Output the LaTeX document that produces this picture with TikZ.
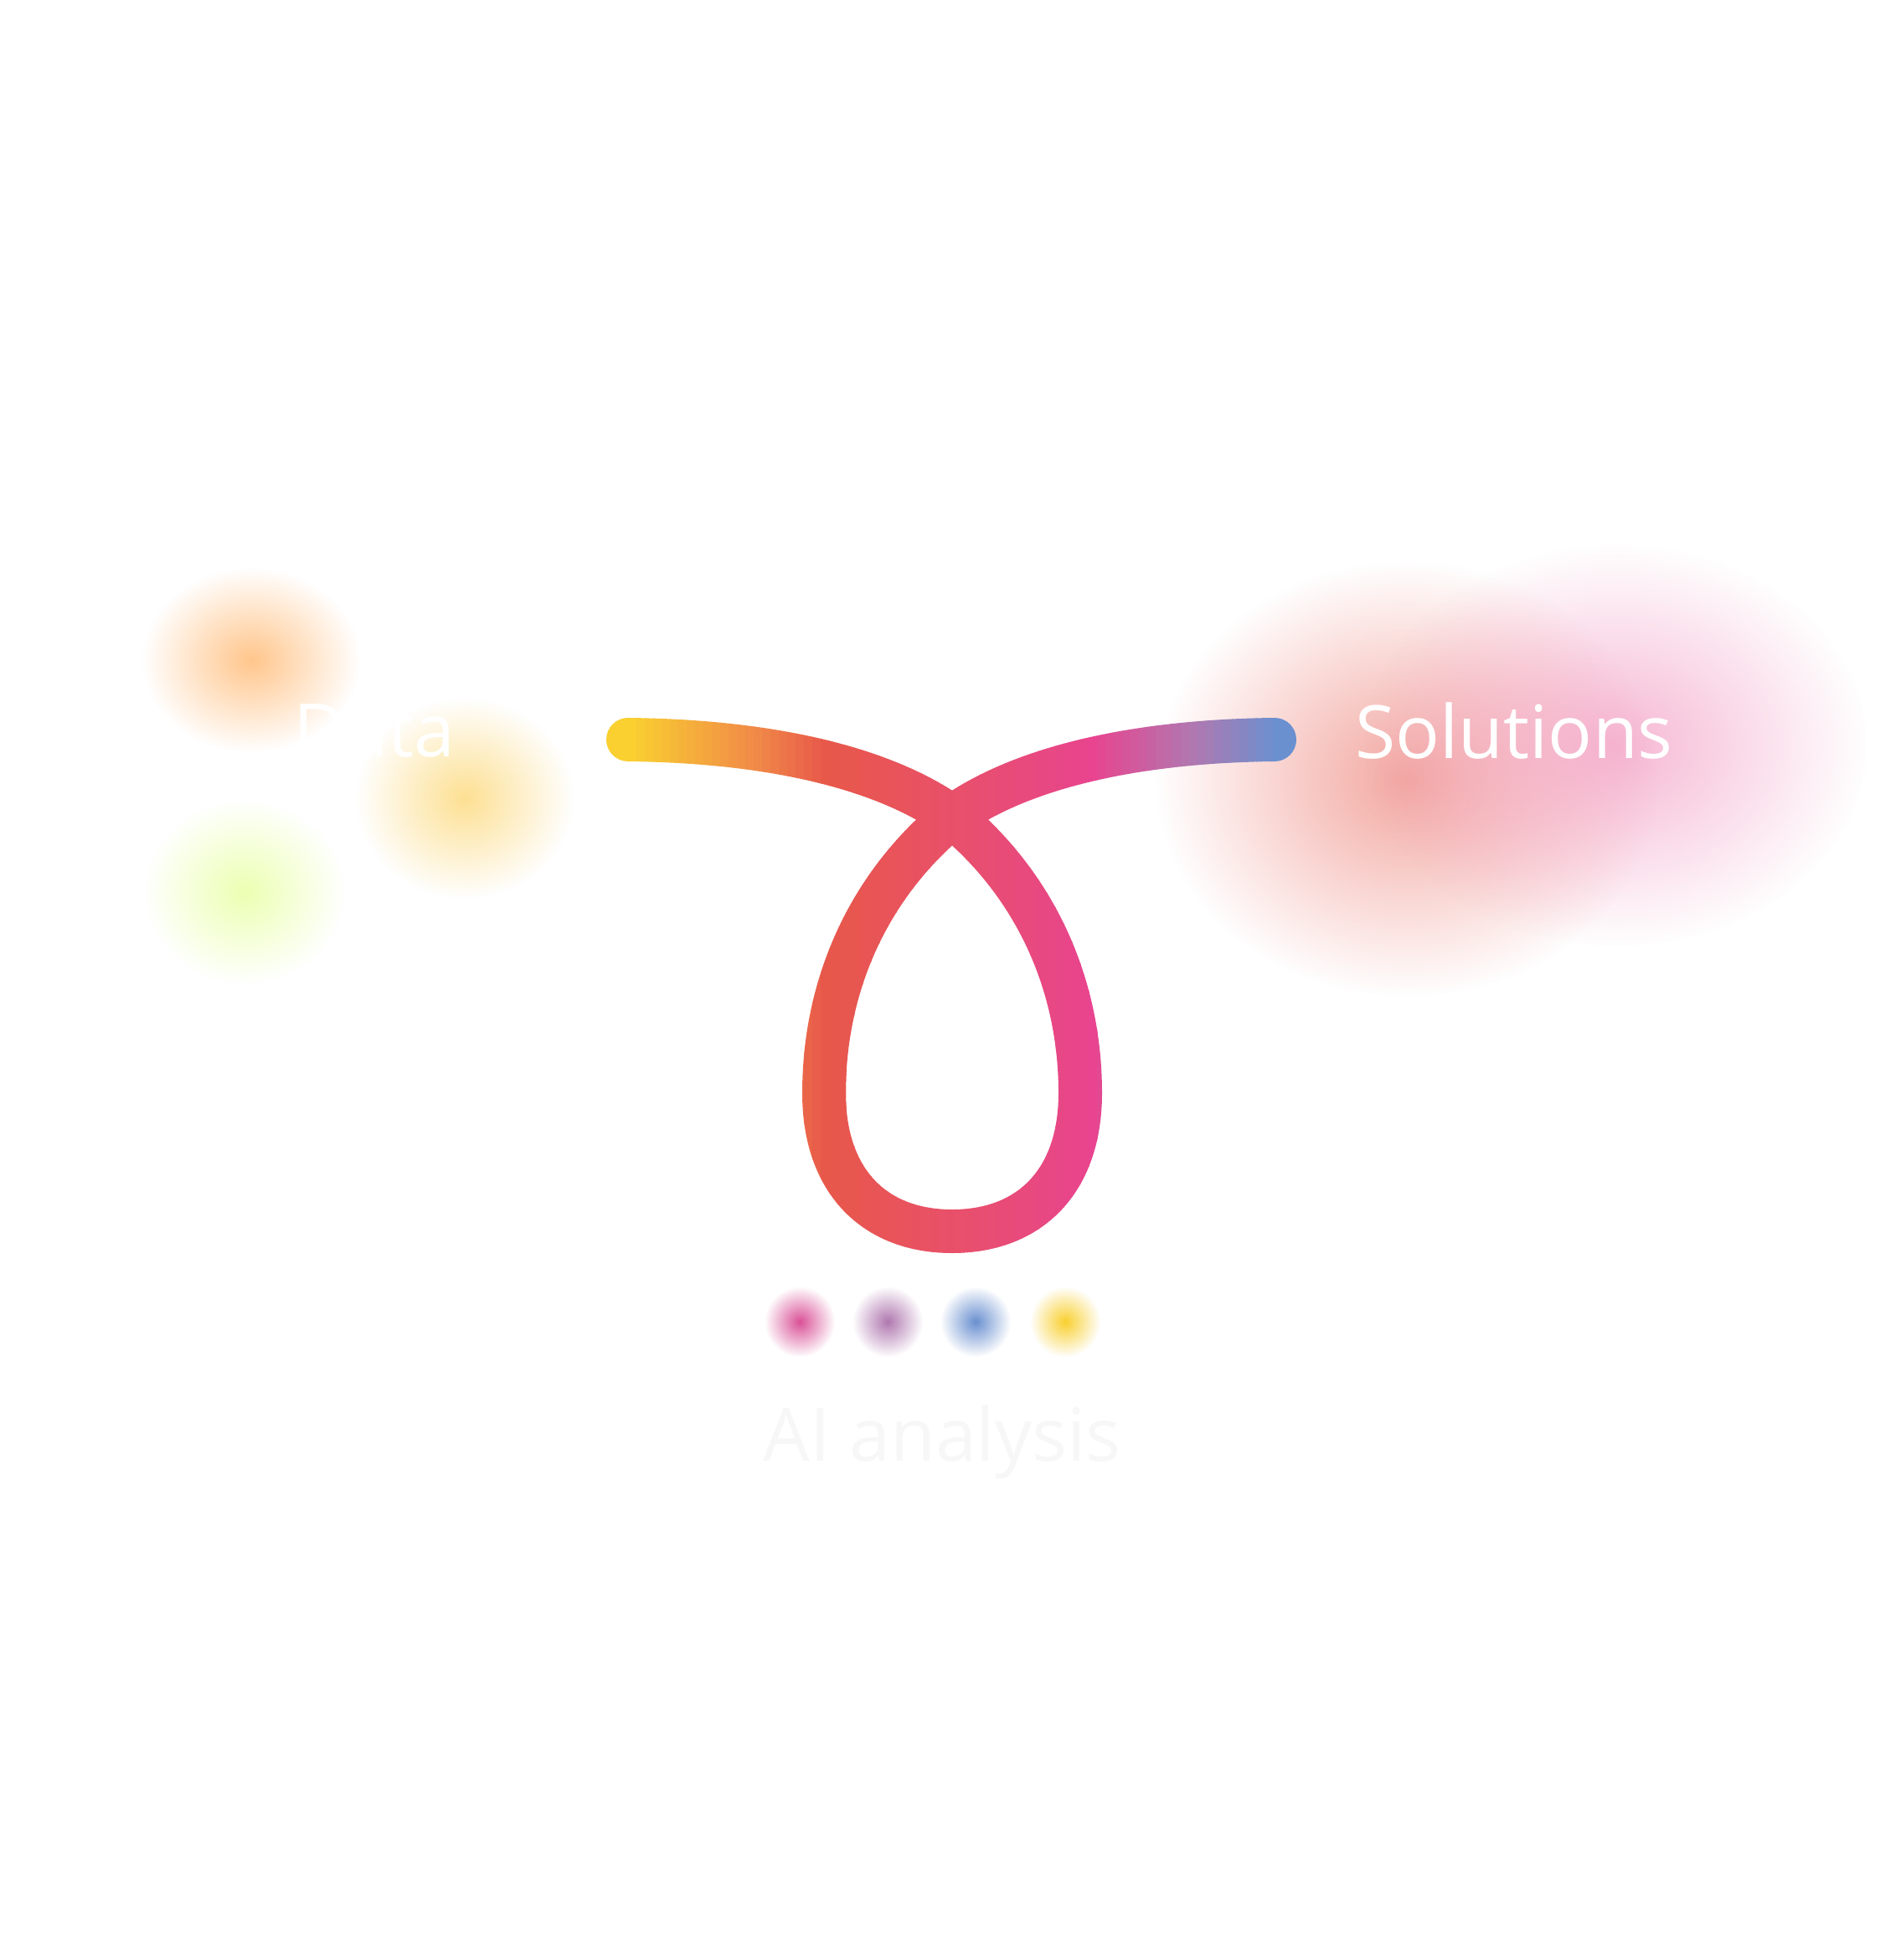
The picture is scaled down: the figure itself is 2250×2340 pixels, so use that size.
\documentclass[tikz,border=0pt]{standalone}
\usepackage{fontspec}
\setmainfont{Open Sans}
\usetikzlibrary{fadings}
\definecolor{cY}{HTML}{F9D030}
\definecolor{cO}{HTML}{F08848}
\definecolor{cR}{HTML}{E8584A}
\definecolor{cM}{HTML}{E8506A}
\definecolor{cP}{HTML}{E8448F}
\definecolor{cV}{HTML}{B078B0}
\definecolor{cB}{HTML}{6A90D0}
\tikzfading[name=blurfade, inner color=transparent!0, outer color=transparent!100]
\newcommand{\looppath}{(750,883) .. controls (930,885) and (1060,920) .. (1137,975)
  .. controls (1240,1060) and (1290,1180) .. (1290,1305)
  .. controls (1290,1410) and (1230,1470) .. (1137,1470)
  .. controls (1044,1470) and (984,1410) .. (984,1305)
  .. controls (984,1180) and (1034,1060) .. (1137,975)
  .. controls (1214,920) and (1344,885) .. (1522,883)}
\newcommand{\stripcolor}[1]{%
  \ifdim#1pt<900pt \pgfmathsetmacro\p{max(0,min(100,(900-#1)/150*100))}\colorlet{sc}{cY!\p!cO}%
  \else\ifdim#1pt<980pt \pgfmathsetmacro\p{(980-#1)/80*100}\colorlet{sc}{cO!\p!cR}%
  \else\ifdim#1pt<1137pt \pgfmathsetmacro\p{(1137-#1)/157*100}\colorlet{sc}{cR!\p!cM}%
  \else\ifdim#1pt<1300pt \pgfmathsetmacro\p{(1300-#1)/163*100}\colorlet{sc}{cM!\p!cP}%
  \else\ifdim#1pt<1420pt \pgfmathsetmacro\p{(1420-#1)/120*100}\colorlet{sc}{cP!\p!cV}%
  \else \pgfmathsetmacro\p{max(0,(1520-#1)/100*100)}\colorlet{sc}{cV!\p!cB}%
  \fi\fi\fi\fi\fi}
\begin{document}
\begin{tikzpicture}[x=0.1mm, y=-0.1mm,
  blob/.style={path fading=blurfade},
  loopline/.style={line width=5.2mm, line cap=round},
  label/.style={font=\fontsize{25}{30}\selectfont, text=white},
]
  \useasboundingbox[fill=white] (0,0) rectangle (2250,2340);
  % blurred blobs
  \fill[blob, fill=orange!45] (300,788) ellipse (130 and 110);
  \fill[blob, fill=yellow!45!orange!40] (555,953) ellipse (130 and 120);
  \fill[blob, fill=green!25!yellow!30] (292,1065) ellipse (120 and 110);
  \fill[blob, fill=cR!65, opacity=0.8] (1680,930) ellipse (300 and 260);
  \fill[blob, fill=cP!55, opacity=0.7] (1930,890) ellipse (300 and 240);
  % dots
  \foreach \dx/\dc in {955/cP!75!cV, 1060/cV, 1165/cB, 1272/cY}
    \fill[blob, fill=\dc] (\dx,1578) circle (42);
  % gradient loop, strip by strip
  \foreach \i in {0,...,89}{
    \pgfmathsetmacro\xa{700+10*\i}
    \stripcolor{\xa}
    \begin{scope}
      \clip (\xa,0) rectangle (\xa+10.6,2340);
      \draw[loopline, sc] \looppath;
    \end{scope}
  }
  \node[label] (data) at (447,873) {Data};
  \node[label] (solutions) at (1808,873) {Solutions};
  \node[label, text=black!3] (analysis) at (1125,1722) {AI analysis};
\end{tikzpicture}
\end{document}
